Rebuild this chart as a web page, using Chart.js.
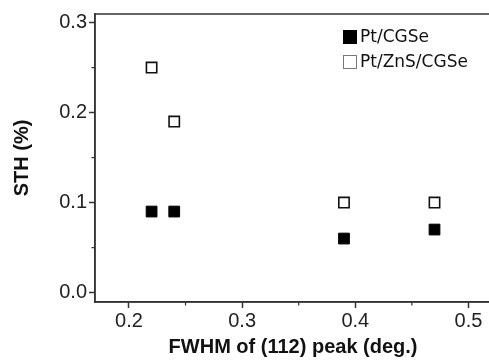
<!DOCTYPE html>
<html><head><meta charset="utf-8">
<script src="https://cdn.jsdelivr.net/npm/chart.js@4/dist/chart.umd.min.js"></script>
<style>html,body{margin:0;padding:0;overflow:hidden;background:#fff}#wrap{width:500px;height:363px}</style>
</head><body><div id="wrap"><canvas id="c" width="500" height="363"></canvas></div>
<script>
const seriesNames = ['Pt/CGSe', 'Pt/ZnS/CGSe'];
const fwhmCGSe = [0.22, 0.24, 0.39, 0.47];
const sthCGSe = [0.09, 0.09, 0.06, 0.07];
const fwhmZnS = [0.22, 0.24, 0.39, 0.47];
const sthZnS = [0.25, 0.19, 0.10, 0.10];
const xTicks = [0.2, 0.3, 0.4, 0.5];
const yTicks = [0.0, 0.1, 0.2, 0.3];
const xMinor = [0.25, 0.35, 0.45];
const yMinor = [0.05, 0.15, 0.25];
const xTitle = 'FWHM of (112) peak (deg.)';
const yTitle = 'STH (%)';

const axisColor = '#333';
const tickFont = {family: 'Liberation Sans, Arial, sans-serif', size: 20};
const titleFont = {family: 'Liberation Sans, Arial, sans-serif', size: 20, weight: 'bold'};

const toPts = (xs, ys) => xs.map((x, i) => ({x: x, y: ys[i]}));

const framePlugin = {
  id: 'frame',
  afterDraw(chart) {
    const {ctx, chartArea: a, scales} = chart;
    ctx.save();
    ctx.strokeStyle = axisColor;
    ctx.lineWidth = 1.5;
    ctx.strokeRect(a.left, a.top, a.right - a.left, a.bottom - a.top);
    // minor ticks
    ctx.lineWidth = 1.2;
    ctx.beginPath();
    xMinor.forEach(v => {
      const px = scales.x.getPixelForValue(v);
      ctx.moveTo(px, a.bottom); ctx.lineTo(px, a.bottom + 3.5);
    });
    yMinor.forEach(v => {
      const py = scales.y.getPixelForValue(v);
      ctx.moveTo(a.left, py); ctx.lineTo(a.left - 3.5, py);
    });
    ctx.stroke();
    // legend
    const lx = 343, ly = [37, 62], sz = 14;
    ctx.font = '17px "DejaVu Sans", sans-serif';
    ctx.textBaseline = 'middle';
    ctx.textAlign = 'left';
    chart.data.datasets.forEach((ds, i) => {
      if (i === 0) {
        ctx.fillStyle = '#000';
        ctx.fillRect(lx, ly[i] - sz / 2, sz, sz);
      } else {
        ctx.strokeStyle = '#777';
        ctx.lineWidth = 1;
        ctx.strokeRect(lx + 0.5, ly[i] - sz / 2 + 0.5, sz - 1, sz - 1);
      }
      ctx.fillStyle = '#111';
      ctx.fillText(ds.label, lx + sz + 3, ly[i] + 1);
    });
    ctx.restore();
  }
};

new Chart(document.getElementById('c'), {
  type: 'scatter',
  data: {
    datasets: [
      {label: seriesNames[0], data: toPts(fwhmCGSe, sthCGSe), pointStyle: 'rect',
       pointRadius: 7.6, pointHoverRadius: 7.6, backgroundColor: '#000', borderColor: '#000', borderWidth: 1},
      {label: seriesNames[1], data: toPts(fwhmZnS, sthZnS), pointStyle: 'rect',
       pointRadius: 7.3, pointHoverRadius: 7.3, backgroundColor: '#fff', borderColor: '#111', borderWidth: 1.6}
    ]
  },
  options: {
    responsive: false,
    animation: false,
    events: [],
    layout: {padding: {top: 12, right: 8, left: 0, bottom: 0}},
    plugins: {legend: {display: false}, tooltip: {enabled: false}},
    scales: {
      x: {
        type: 'linear', min: 0.17, max: 0.52,
        afterFit(s) { s.height = 61; },
        afterBuildTicks(s) { s.ticks = xTicks.map(v => ({value: v})); },
        grid: {drawOnChartArea: false, drawTicks: true, tickLength: 6, tickColor: axisColor, tickWidth: 1.5},
        border: {display: true, color: axisColor, width: 1.5},
        ticks: {color: '#222', font: tickFont, padding: 1, maxRotation: 0, callback: v => v.toFixed(1)},
        title: {display: true, text: xTitle, color: '#111', font: titleFont, padding: {top: 0, bottom: 4}}
      },
      y: {
        type: 'linear', min: -0.0105, max: 0.3095,
        afterFit(s) { s.width = 95; },
        afterBuildTicks(s) { s.ticks = yTicks.map(v => ({value: v})); },
        grid: {drawOnChartArea: false, drawTicks: true, tickLength: 6, tickColor: axisColor, tickWidth: 1.5},
        border: {display: true, color: axisColor, width: 1.5},
        ticks: {color: '#222', font: tickFont, padding: 2, callback: v => v.toFixed(1)},
        title: {display: true, text: yTitle, color: '#111', font: titleFont, padding: {top: 10, bottom: 0}}
      }
    }
  },
  plugins: [framePlugin]
});
</script>
</body></html>
